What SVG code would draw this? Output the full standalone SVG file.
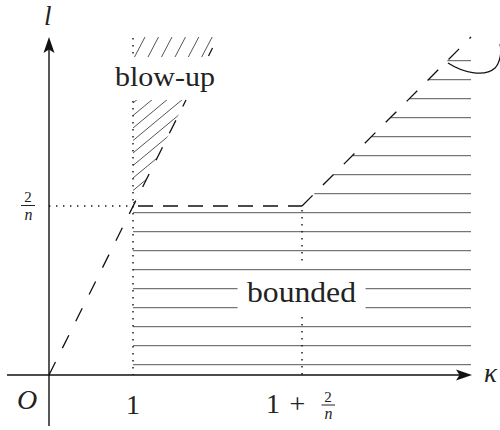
<svg xmlns="http://www.w3.org/2000/svg" width="500" height="430" viewBox="0 0 500 430">
<style>
.ax{stroke:#111;stroke-width:1.4;fill:none}
.ah{fill:#111;stroke:none}
.dash{stroke:#111;stroke-width:1.3;fill:none}
.dot{stroke:#111;stroke-width:1.4;fill:none;stroke-dasharray:1.4 5.6;stroke-linecap:butt}
.h{stroke:#555;stroke-width:1;fill:none}
text{font-family:Liberation Serif,serif;fill:#222}
.i{font-style:italic}
</style>
<defs>
<clipPath id="lowclip"><polygon points="133,206 133,100 186,100"/></clipPath>
<clipPath id="upclip"><polygon points="133,37 218,37 208,57 133,57"/></clipPath>
</defs>
<g id="hatch-bounded">
<line class="h" x1="133" y1="212.7" x2="471" y2="212.7"/>
<line class="h" x1="133" y1="231.7" x2="471" y2="231.7"/>
<line class="h" x1="133" y1="250.7" x2="471" y2="250.7"/>
<line class="h" x1="133" y1="269.7" x2="471" y2="269.7"/>
<line class="h" x1="133" y1="288.7" x2="237.5" y2="288.7"/>
<line class="h" x1="365.5" y1="288.7" x2="471" y2="288.7"/>
<line class="h" x1="133" y1="307.7" x2="237.5" y2="307.7"/>
<line class="h" x1="365.5" y1="307.7" x2="471" y2="307.7"/>
<line class="h" x1="133" y1="326.7" x2="471" y2="326.7"/>
<line class="h" x1="133" y1="345.7" x2="471" y2="345.7"/>
<line class="h" x1="133" y1="364.7" x2="471" y2="364.7"/>
<line class="h" x1="314.3" y1="193.7" x2="471" y2="193.7"/>
<line class="h" x1="333.3" y1="174.7" x2="471" y2="174.7"/>
<line class="h" x1="352.3" y1="155.7" x2="471" y2="155.7"/>
<line class="h" x1="371.3" y1="136.7" x2="471" y2="136.7"/>
<line class="h" x1="390.3" y1="117.7" x2="471" y2="117.7"/>
<line class="h" x1="409.3" y1="98.7" x2="471" y2="98.7"/>
<line class="h" x1="428.3" y1="79.7" x2="471" y2="79.7"/>
<line class="h" x1="447.3" y1="60.7" x2="471" y2="60.7"/>
</g>
<g id="hatch-blowup">
<g clip-path="url(#lowclip)">
<line class="h" x1="133" y1="103" x2="213" y2="36.6"/>
<line class="h" x1="133" y1="115.5" x2="213" y2="49.1"/>
<line class="h" x1="133" y1="128" x2="213" y2="61.6"/>
<line class="h" x1="133" y1="140.5" x2="213" y2="74.1"/>
<line class="h" x1="133" y1="153" x2="213" y2="86.6"/>
<line class="h" x1="133" y1="165.5" x2="213" y2="99.1"/>
<line class="h" x1="133" y1="178" x2="213" y2="111.6"/>
<line class="h" x1="133" y1="190.5" x2="213" y2="124.1"/>
<line class="h" x1="133" y1="203" x2="213" y2="136.6"/>
</g>
<g clip-path="url(#upclip)">
<line class="h" x1="121.5" y1="57" x2="132" y2="37"/>
<line class="h" x1="134.5" y1="57" x2="145" y2="37"/>
<line class="h" x1="148" y1="57" x2="158.5" y2="37"/>
<line class="h" x1="161.5" y1="57" x2="172" y2="37"/>
<line class="h" x1="175" y1="57" x2="185.5" y2="37"/>
<line class="h" x1="188.3" y1="57" x2="198.8" y2="37"/>
<line class="h" x1="201.7" y1="57" x2="212.2" y2="37"/>
</g>
</g>
<g id="guides">
<line class="dot" x1="49" y1="206" x2="133" y2="206"/>
<line class="dot" x1="133" y1="38" x2="133" y2="57"/>
<line class="dot" x1="133" y1="101" x2="133" y2="375"/>
<line class="dot" x1="302" y1="210" x2="302" y2="264"/>
<line class="dot" x1="302" y1="317" x2="302" y2="375"/>
</g>
<g id="connectors">
<path class="dash" d="M49,375 L186,100" stroke-dasharray="14.5 15.5"/>
<path class="dash" d="M208.5,56 L212.5,48" />
<path class="dash" d="M138,206 H302" stroke-dasharray="15 10"/>
<path class="dash" d="M302,206 L471,37" stroke-dasharray="15 14.6"/>
<path class="dash" d="M448,63 C462,72 484,78 495,68 C500,63 502,52 500,44"/>
</g>
<g id="axes">
<line class="ax" x1="7" y1="375" x2="462" y2="375"/>
<path class="ah" d="M472,375 L456,369.5 L459.5,375 L456,380.5 Z"/>
<line class="ax" x1="49" y1="426" x2="49" y2="48"/>
<path class="ah" d="M49,37 L54.5,53 L49,49.5 L43.5,53 Z"/>
</g>
<g id="labels">
<text class="i" x="44" y="25" font-size="27">l</text>
<text class="i" x="484" y="382" font-size="27">κ</text>
<text class="i" x="17" y="409" font-size="28">O</text>
<text x="133" y="414" font-size="28" text-anchor="middle">1</text>
<text x="28" y="202" font-size="15" text-anchor="middle">2</text>
<line x1="21" y1="205.5" x2="35" y2="205.5" stroke="#222" stroke-width="1"/>
<text class="i" x="28.5" y="219.5" font-size="16" text-anchor="middle">n</text>
<text x="273" y="413" font-size="28" text-anchor="middle">1</text>
<text x="297.5" y="413" font-size="28" text-anchor="middle">+</text>
<text x="328" y="401.5" font-size="15" text-anchor="middle">2</text>
<line x1="321.5" y1="405" x2="335" y2="405" stroke="#222" stroke-width="1"/>
<text class="i" x="328.5" y="418.5" font-size="16" text-anchor="middle">n</text>
<text x="165" y="86" font-size="28" text-anchor="middle" textLength="100" lengthAdjust="spacingAndGlyphs">blow-up</text>
<text x="301.5" y="301.5" font-size="29" text-anchor="middle" textLength="109" lengthAdjust="spacingAndGlyphs">bounded</text>
</g>
</svg>
